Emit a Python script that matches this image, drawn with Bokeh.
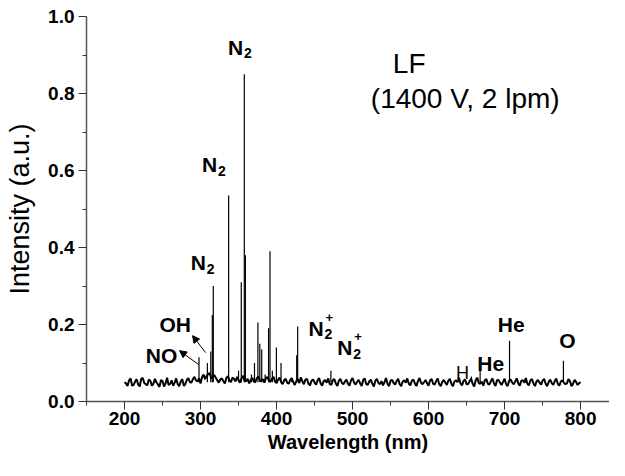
from bokeh.plotting import figure
from bokeh.models import Arrow, NormalHead, Range1d, FixedTicker, ColumnDataSource, CustomJSTickFormatter
from bokeh.core.properties import value
from bokeh.embed import file_html
from bokeh.resources import INLINE

# ---- data -------------------------------------------------------------
# noisy baseline read every 2 nm (200, 204, ... and 202, 206, ...)
base_start = 200
base_step = 2
baseline_even = [
    0.050, 0.040, 0.060, 0.043, 0.058, 0.039, 0.061, 0.045, 0.057, 0.041,
    0.059, 0.044, 0.056, 0.039, 0.062, 0.046, 0.041, 0.060, 0.040, 0.058,
    0.045, 0.061, 0.049, 0.064, 0.052, 0.047, 0.070, 0.066, 0.074, 0.064,
    0.062, 0.049, 0.060, 0.047, 0.066, 0.050, 0.059, 0.064, 0.049, 0.067,
    0.053, 0.047, 0.062, 0.050, 0.065, 0.053, 0.049, 0.063, 0.051, 0.064,
    0.048, 0.062, 0.045, 0.059, 0.046, 0.061, 0.043, 0.058, 0.063, 0.045,
    0.059, 0.042, 0.057, 0.044, 0.061, 0.041, 0.056, 0.060, 0.043, 0.058,
    0.040, 0.059, 0.045, 0.057, 0.041, 0.061, 0.044, 0.056, 0.040, 0.060,
    0.043, 0.057, 0.039, 0.059, 0.045, 0.042, 0.061, 0.040, 0.056, 0.044,
    0.059, 0.040, 0.055, 0.060, 0.042, 0.057, 0.040, 0.061, 0.045, 0.056,
    0.041, 0.058, 0.044, 0.060, 0.040, 0.056, 0.043, 0.059, 0.040, 0.055,
    0.061, 0.042, 0.057, 0.045, 0.059, 0.039, 0.062, 0.046, 0.041, 0.058,
    0.044, 0.060, 0.040, 0.056, 0.043, 0.059, 0.040, 0.057, 0.045, 0.060,
    0.041, 0.055, 0.061, 0.042, 0.058, 0.040, 0.056, 0.044, 0.059, 0.040,
    0.057, 0.043, 0.060, 0.041, 0.055, 0.045, 0.058, 0.040, 0.056, 0.043,
    0.050,
]
baseline_odd = [
    0.047, 0.055, 0.041, 0.052, 0.044, 0.059, 0.048, 0.042, 0.054, 0.046,
    0.050, 0.038, 0.053, 0.047, 0.043, 0.055, 0.049, 0.045, 0.052, 0.041,
    0.056, 0.050, 0.058, 0.055, 0.060, 0.063, 0.058, 0.071, 0.060, 0.069,
    0.055, 0.057, 0.053, 0.061, 0.055, 0.062, 0.052, 0.056, 0.060, 0.054,
    0.059, 0.055, 0.052, 0.060, 0.056, 0.058, 0.061, 0.054, 0.058, 0.052,
    0.057, 0.050, 0.055, 0.049, 0.056, 0.050, 0.053, 0.048, 0.052, 0.057,
    0.046, 0.054, 0.049, 0.055, 0.047, 0.053, 0.049, 0.045, 0.055, 0.047,
    0.054, 0.048, 0.052, 0.046, 0.055, 0.049, 0.051, 0.047, 0.056, 0.045,
    0.052, 0.046, 0.054, 0.048, 0.053, 0.050, 0.046, 0.054, 0.048, 0.053,
    0.045, 0.052, 0.049, 0.046, 0.054, 0.047, 0.053, 0.049, 0.050, 0.047,
    0.055, 0.046, 0.053, 0.045, 0.051, 0.049, 0.054, 0.046, 0.052, 0.050,
    0.047, 0.054, 0.045, 0.053, 0.046, 0.055, 0.048, 0.052, 0.055, 0.046,
    0.053, 0.047, 0.055, 0.049, 0.051, 0.045, 0.054, 0.049, 0.052, 0.047,
    0.054, 0.049, 0.046, 0.055, 0.047, 0.052, 0.049, 0.054, 0.046, 0.051,
    0.048, 0.053, 0.046, 0.052, 0.049, 0.047, 0.053, 0.046, 0.051, 0.048,
]
baseline = []
for a, b in zip(baseline_even, baseline_odd):
    baseline += [a, b]
baseline.append(baseline_even[-1])
base_nm = [base_start + base_step * i for i in range(len(baseline))]

peak_nm = [298.0, 309.0, 313.5, 315.5, 316.8, 337.0, 350.0, 353.6, 357.6, 359.0,
           367.0, 371.0, 375.5, 378.0, 380.5, 385.0, 389.5, 391.4, 394.5, 399.8,
           405.9, 420.0, 426.5, 427.8, 471.5, 656.3, 667.8, 706.5, 728.0, 777.4]
peak_int = [0.115, 0.100, 0.130, 0.225, 0.300, 0.535, 0.080, 0.310, 0.850, 0.380,
            0.070, 0.100, 0.205, 0.150, 0.135, 0.070, 0.190, 0.390, 0.080, 0.140,
            0.100, 0.060, 0.120, 0.195, 0.080, 0.065, 0.080, 0.158, 0.060, 0.106]
peak_base = 0.05

# labels: main text, left x (nm), baseline y (a.u.), subscript, superscript
lab_text = ["N", "N", "N", "OH", "NO", "N", "N", "He", "He", "O"]
lab_x = [336, 302, 287, 246, 228, 442, 480, 664, 691, 772]
lab_y = [0.92, 0.615, 0.36, 0.20, 0.12, 0.19, 0.14, 0.10, 0.20, 0.158]
lab_sub = ["2", "2", "2", "", "", "2", "2", "", "", ""]
lab_sup = ["", "", "", "", "", "+", "+", "", "", ""]

h_text = ["H"]
h_x = [636]
h_y = [0.075]

note_text = ["LF", "(1400 V, 2 lpm)"]
note_x = [553, 524]
note_y = [0.879, 0.787]

arrow_x0 = [297.4, 306.6]
arrow_y0 = [0.096, 0.127]
arrow_x1 = [272.4, 289.5]
arrow_y1 = [0.132, 0.171]

x_major = [200, 300, 400, 500, 600, 700, 800]
x_minor = [150, 250, 350, 450, 550, 650, 750, 850]
y_major = [0.0, 0.2, 0.4, 0.6, 0.8, 1.0]
y_minor = [0.1, 0.3, 0.5, 0.7, 0.9]

FONT = "Liberation Sans"

# ---- figure -----------------------------------------------------------
p = figure(width=609, height=460, x_range=Range1d(150, 838), y_range=Range1d(0, 1.0),
           output_backend="svg", toolbar_location=None,
           min_border_left=86, min_border_right=0, min_border_top=16, min_border_bottom=59)
p.title.visible = False
p.outline_line_color = None
p.xgrid.visible = False
p.ygrid.visible = False
p.background_fill_color = "white"

p.line(base_nm, baseline, line_color="black", line_width=2.0)
p.segment(x0=peak_nm, y0=[peak_base] * len(peak_nm), x1=peak_nm, y1=peak_int,
          line_color="black", line_width=1.2)

src = ColumnDataSource(dict(x=lab_x, y=lab_y, t=lab_text, sub=lab_sub, sup=lab_sup))
p.text(x="x", y="y", text="t", source=src, text_font=value(FONT), text_font_style="bold",
       text_font_size="21px", text_align="left", text_baseline="alphabetic", text_color="black")
p.text(x="x", y="y", text="sub", source=src, text_font=value(FONT), text_font_style="bold",
       text_font_size="14px", text_align="left", text_baseline="alphabetic", text_color="black",
       x_offset=16, y_offset=6)
p.text(x="x", y="y", text="sup", source=src, text_font=value(FONT), text_font_style="bold",
       text_font_size="13px", text_align="left", text_baseline="alphabetic", text_color="black",
       x_offset=17, y_offset=-11)
p.text(x=h_x, y=h_y, text=h_text, text_font=value(FONT), text_font_size="18px",
       text_align="left", text_baseline="alphabetic", text_color="black")
p.text(x=note_x, y=note_y, text=note_text, text_font=value(FONT), text_font_size="28px",
       text_align="left", text_baseline="alphabetic", text_color="black")

for xs, ys, xe, ye in zip(arrow_x0, arrow_y0, arrow_x1, arrow_y1):
    p.add_layout(Arrow(x_start=xs, y_start=ys, x_end=xe, y_end=ye, line_color="black",
                       line_width=1,
                       end=NormalHead(size=7, fill_color="black", line_color="black")))

p.xaxis.ticker = FixedTicker(ticks=x_major, minor_ticks=x_minor)
p.yaxis.ticker = FixedTicker(ticks=y_major, minor_ticks=y_minor)
for ax in (p.xaxis[0], p.yaxis[0]):
    ax.axis_line_color = "#555555"
    ax.axis_line_width = 1.5
    ax.major_tick_line_color = "#333333"
    ax.minor_tick_line_color = "#333333"
    ax.major_tick_in = 0
    ax.major_tick_out = 8
    ax.minor_tick_in = 0
    ax.minor_tick_out = 4
    ax.major_label_text_font = FONT
    ax.major_label_text_font_style = "bold"
    ax.major_label_text_font_size = "19px"
    ax.major_label_text_color = "black"
    ax.axis_label_text_font = FONT
    ax.axis_label_text_color = "black"

p.yaxis.formatter = CustomJSTickFormatter(code="return tick.toFixed(1);")

p.xaxis.major_label_standoff = 2
p.xaxis.axis_label = "Wavelength (nm)"
p.xaxis.axis_label_text_font_style = "bold"
p.xaxis.axis_label_text_font_size = "20px"
p.xaxis.axis_label_standoff = 3

p.yaxis.major_label_standoff = 4
p.yaxis.axis_label = "Intensity (a.u.)"
p.yaxis.axis_label_text_font_style = "normal"
p.yaxis.axis_label_text_font_size = "27px"
p.yaxis.axis_label_standoff = 10

open("out.html", "w").write(file_html(p, INLINE))
